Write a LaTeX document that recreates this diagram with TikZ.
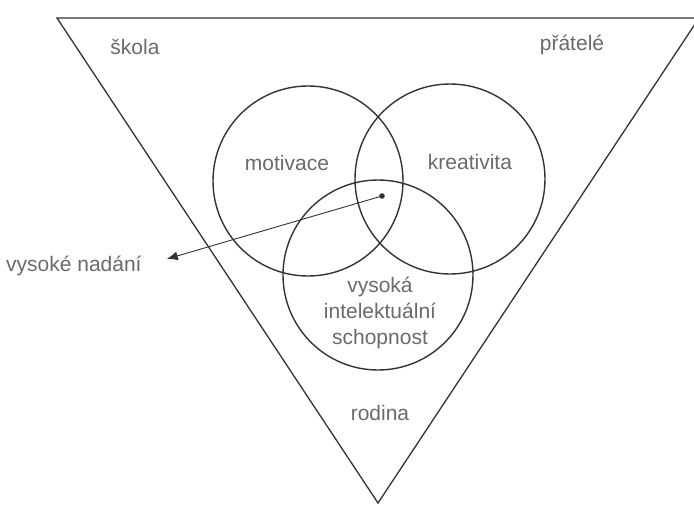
\documentclass[tikz,border=0pt]{standalone}
\usepackage{fontspec}
\setmainfont{Liberation Sans}
\usetikzlibrary{arrows.meta, positioning}
\definecolor{ink}{HTML}{333333}
\definecolor{muted}{HTML}{6A6A6A}
\tikzset{
  ring/.style={
    circle, draw=ink, line width=1.4pt,
    minimum size=190pt, inner sep=0pt
  },
  word/.style={font=\fontsize{21}{26}\selectfont, text=muted, align=center},
  arrow/.style={-{Latex[length=11pt,width=9pt]}, line width=0.9pt, draw=ink},
}
\begin{document}
\begin{tikzpicture}[x=1pt, y=-1pt]
  \useasboundingbox (0,0) rectangle (694,506);

  % the surrounding triangle
  \coordinate (tl) at (57,18);
  \coordinate (tr) at (699,18);
  \coordinate (bt) at (378,503);
  \draw[ink, line width=1.3pt] (tl) -- (tr) -- (bt) -- cycle;

  % the three circles
  \node[ring] (mot) at (308,181) {};
  \node[ring] (kre) at (450,179) {};
  \node[ring] (int) at (378,275) {};

  \node[word] at (287,163) {motivace};
  \node[word] at (470,162) {kreativita};
  \node[word] at (380,313) {vysoká\\intelektuální\\schopnost};

  \node[word] at (135,47) {škola};
  \node[word] at (572,45) {přátelé};
  \node[word] at (380,413) {rodina};

  % the common centre
  \fill[ink] (382,196) circle (2.8pt);
  \coordinate (dot) at (382,196);
  \node[word, anchor=west, inner sep=0pt] (nadani) at (6,266) {vysoké nadání};

  \draw[arrow] (dot) -- ([xshift=25pt, yshift=7pt]nadani.east);
\end{tikzpicture}
\end{document}
